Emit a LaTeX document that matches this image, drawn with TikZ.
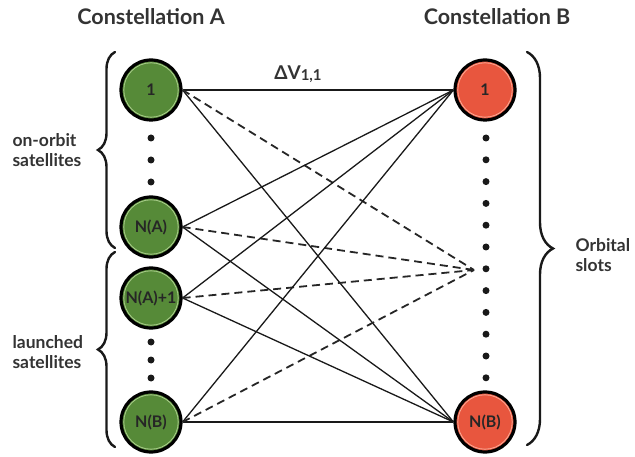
\documentclass[tikz,border=0pt]{standalone}
\usepackage{fontspec}
\setmainfont{Lato}
\usetikzlibrary{decorations.pathreplacing}
\definecolor{satgreen}{RGB}{86,138,56}
\definecolor{satring}{RGB}{170,205,140}
\definecolor{slotred}{RGB}{232,86,62}
\definecolor{slotring}{RGB}{250,170,150}
\begin{document}
\begin{tikzpicture}[x=1pt,y=-1pt,
  sat/.style={circle, draw=black, line width=3.2pt, minimum size=60pt, inner sep=0pt,
              fill=satgreen, text=black!85, font=\bfseries\fontsize{16}{16}\selectfont},
  slot/.style={sat, fill=slotred},
  link/.style={line width=1.3pt, black!90},
  dashlink/.style={line width=1.8pt, black!85, dash pattern=on 8pt off 5pt},
  dotmark/.style={circle, fill=black!90, inner sep=0pt, minimum size=7pt},
  bracket/.style={decorate, decoration={brace, amplitude=#1}, line width=2.4pt, line cap=round, black!90},
  lbl/.style={font=\bfseries\fontsize{17.5}{20}\selectfont, align=left, text=black!80},
  title/.style={font=\bfseries\fontsize{21.5}{22}\selectfont, text=black!80}
]
\useasboundingbox (0,0) rectangle (635,457);

% titles
\node[title] (tA) at (151,17) {Constellation A};
\node[title] (tB) at (497,17) {Constellation B};

% satellites of constellation A
\node[sat] (a1)  at (151,90)  {1};
\node[sat] (aNA) at (151,227) {N(A)};
\node[sat] (aN1) at (151,298) {N(A)+1};
\node[sat] (aNB) at (151,422) {N(B)};

% orbital slots of constellation B
\node[slot] (b1)  at (485,90)  {1};
\node[slot] (bNB) at (485,422) {N(B)};

% thin light inner rings
\foreach \n in {a1,aNA,aN1,aNB}
  \draw[satring, line width=0.8pt] (\n.center) circle (27.2pt);
\foreach \n in {b1,bNB}
  \draw[slotring, line width=0.8pt] (\n.center) circle (27.2pt);

% dots between nodes
\foreach \y [count=\i] in {138,160,182}
  \node[dotmark] (dA\i) at (151,\y) {};
\foreach \y [count=\i] in {342,360,378}
  \node[dotmark] (dB\i) at (151,\y) {};
\foreach \i in {0,...,11}
  \node[dotmark] (dS\i) at (486,{138+21.8*\i}) {};

% meeting point of the dashed transfers
\coordinate (mid) at (474,270);

% transfers
\foreach \n in {a1,aNA,aN1,aNB} {
  \draw[link] (\n.east) -- (b1.west);
  \draw[link] (\n.east) -- (bNB.west);
  \draw[dashlink] (\n.east) -- (mid);
}
\node[font=\bfseries\fontsize{19}{19}\selectfont, text=black!80] (dv) at (298,74)
  {ΔV\raisebox{-1.5pt}{\fontsize{15}{15}\selectfont 1,1}};

% braces
\draw[bracket=17pt] (115,248) -- (115,52);
\draw[bracket=17pt] (115,447) -- (115,252);
\draw[bracket=26pt] (527,52) -- (527,445);

% group labels
\node[lbl, anchor=west] (onorbit) at (9,150) {on-orbit\\satellites};
\node[lbl, anchor=west] (launch)  at (9,352) {launched\\satellites};
\node[lbl, anchor=west] (slots)   at (572,255) {Orbital\\slots};
\end{tikzpicture}
\end{document}
